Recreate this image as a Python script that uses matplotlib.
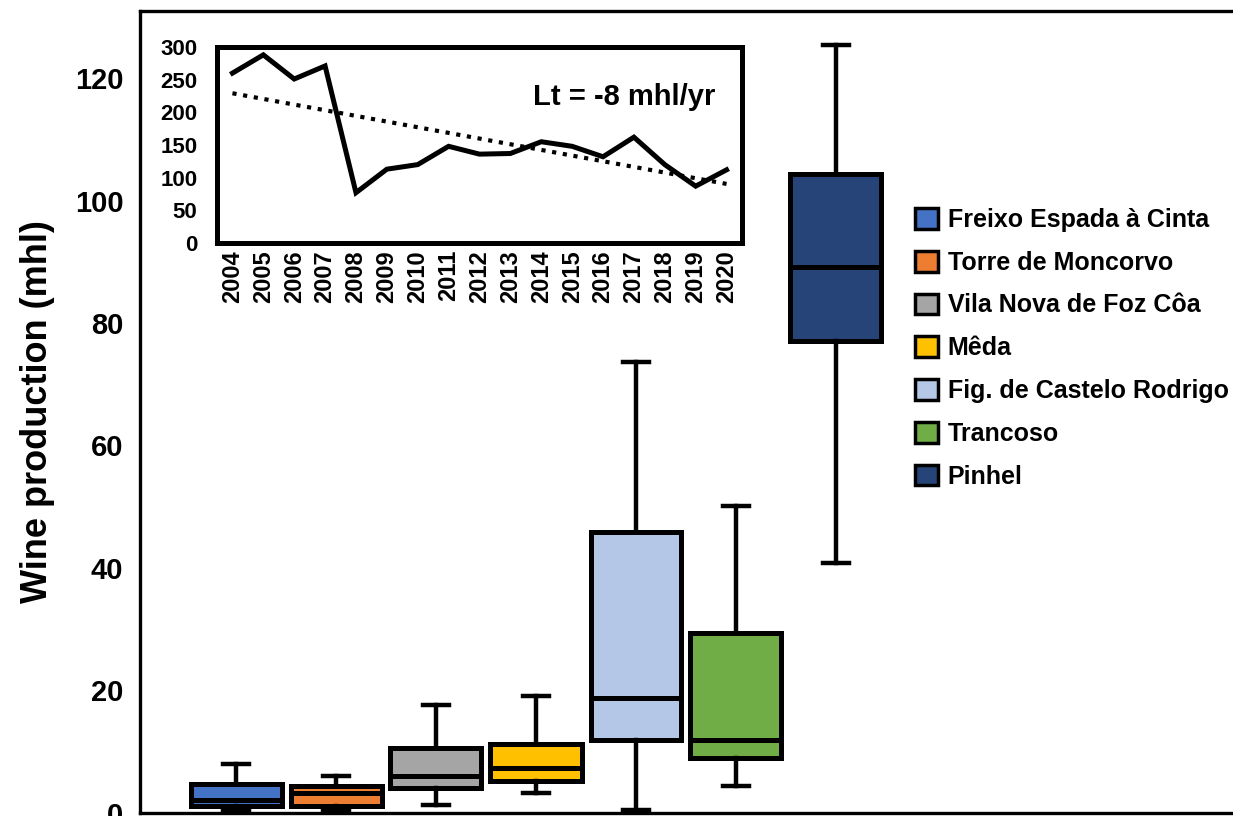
import matplotlib.pyplot as plt
import numpy as np
from matplotlib.patches import Patch

plt.rcParams["font.family"] = ["Liberation Sans", "DejaVu Sans"]

# municipalities (box plots)
municipalities = ["Freixo Espada à Cinta", "Torre de Moncorvo", "Vila Nova de Foz Côa",
                  "Mêda", "Fig. de Castelo Rodrigo", "Trancoso", "Pinhel"]
colors = ["#4472C4", "#ED7D31", "#A5A5A5", "#FFC000", "#B4C7E7", "#70AD47", "#264478"]
whislo = [0.3, 0.3, 1.2, 3.2, 0.4, 4.3, 40.8]
q1 = [1.1, 1.0, 4.0, 5.1, 11.8, 8.9, 77.0]
med = [2.1, 3.2, 5.9, 7.3, 18.7, 11.8, 89.2]
q3 = [4.6, 4.3, 10.6, 11.2, 45.8, 29.4, 104.4]
whishi = [7.9, 6.0, 17.6, 19.1, 73.6, 50.1, 125.5]

# total production per year (inset)
years = [str(y) for y in range(2004, 2021)]
total = [260, 288, 251, 271, 77, 113, 120, 148, 136, 137, 155, 148, 132, 162, 120, 87, 112]

fig = plt.figure(figsize=(12.33, 8.16), dpi=100)

ax = fig.add_axes([140 / 1233, 1 - 812.5 / 816, 0.95, (812.5 - 11) / 816])
stats = [dict(whislo=a, q1=b, med=c, q3=d, whishi=e, fliers=[])
         for a, b, c, d, e in zip(whislo, q1, med, q3, whishi)]
pos = np.arange(1, len(stats) + 1)
bp = ax.bxp(stats, positions=pos, widths=0.91, capwidths=0.26, patch_artist=True,
            boxprops=dict(linewidth=3.6, edgecolor="black"),
            medianprops=dict(color="black", linewidth=3.6),
            whiskerprops=dict(color="black", linewidth=3.2),
            capprops=dict(color="black", linewidth=3.2))
for box, c in zip(bp["boxes"], colors):
    box.set_facecolor(c)
for cap in bp["caps"]:
    cap.set_clip_on(False)

ax.set_xlim(0.04, 0.04 + 0.95 * 1233 / 100)
ax.set_ylim(0, 131)
ax.set_yticks([0, 20, 40, 60, 80, 100, 120])
ax.set_xticks([])
ax.tick_params(axis="y", length=0, pad=12, labelsize=21)
for lab in ax.get_yticklabels():
    lab.set_fontweight("bold")
ax.set_ylabel("Wine production (mhl)", fontsize=26, fontweight="bold", labelpad=14)
ax.spines["right"].set_visible(False)
for s in ["left", "bottom", "top"]:
    ax.spines[s].set_linewidth(2.4)

handles = [Patch(facecolor=c, edgecolor="black", linewidth=2.5) for c in colors]
fig.legend(handles, municipalities, loc="upper left",
           bbox_to_anchor=(905 / 1233, 1 - 198 / 816), frameon=False,
           prop=dict(size=18, weight="bold"), handlelength=0.9, handleheight=0.9,
           handletextpad=0.4, labelspacing=0.75, borderaxespad=0)

# inset: yearly totals with linear trend
ins = fig.add_axes([217 / 1233, 1 - 243 / 816, 525 / 1233, 196 / 816])
x = np.arange(len(years))
ins.plot(x, total, color="black", linewidth=3.6, solid_joinstyle="miter")
k, b = np.polyfit(x, total, 1)
ins.plot(x, k * x + b, color="black", linewidth=3, linestyle=(0, (1, 1.6)))
ins.set_xlim(-0.5, len(years) - 0.5)
ins.set_ylim(0, 300)
ins.set_yticks(range(0, 301, 50))
ins.set_xticks(x)
ins.set_xticklabels(years, rotation=90)
ins.tick_params(axis="y", length=0, pad=14, labelsize=16)
ins.tick_params(axis="x", length=0, pad=5, labelsize=17)
for lab in ins.get_xticklabels() + ins.get_yticklabels():
    lab.set_fontweight("bold")
for s in ins.spines.values():
    s.set_linewidth(3.6)
ins.text(0.95, 0.745, "Lt = -8 mhl/yr", transform=ins.transAxes, ha="right", va="center",
         fontsize=21, fontweight="bold")

fig.savefig("out.png", dpi=100)
